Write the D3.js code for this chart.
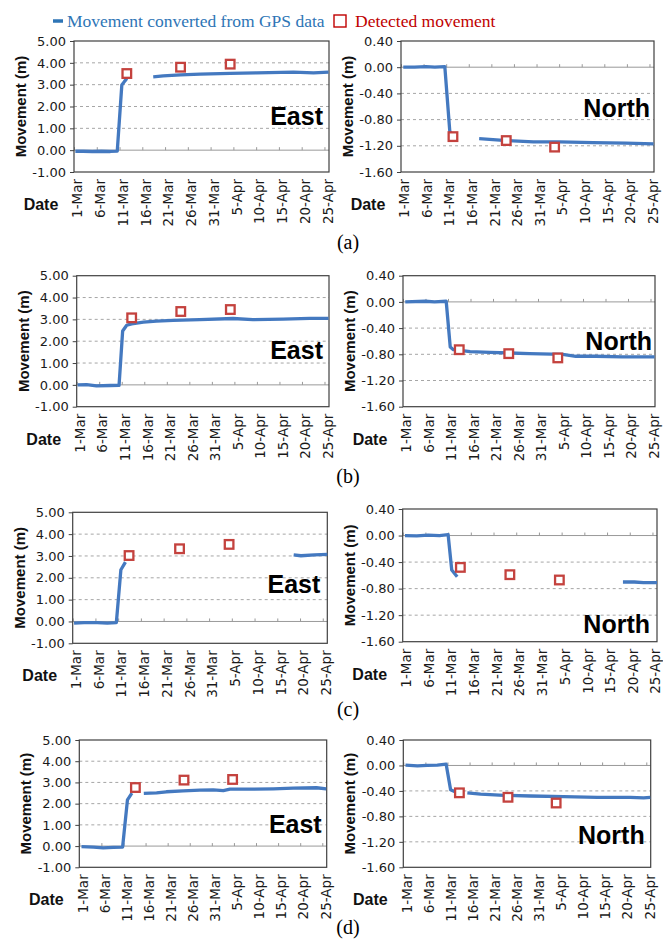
<!DOCTYPE html>
<html>
<head>
<meta charset="utf-8">
<script src="https://cdn.jsdelivr.net/npm/d3@7"></script>
<style>
  body { margin: 0; background: #fff; }
  svg { display: block; }
</style>
</head>
<body>
<div id="chart"></div>
<script>
// x values are days after 1-Mar (1-Mar = 0), y values are metres; null breaks the line
var dayTicks = [0, 5, 10, 15, 20, 25, 30, 35, 40, 45, 50, 55];
var dayLabels = ["1-Mar", "6-Mar", "11-Mar", "16-Mar", "21-Mar", "26-Mar", "31-Mar",
                 "5-Apr", "10-Apr", "15-Apr", "20-Apr", "25-Apr"];
var eastTicks = [-1, 0, 1, 2, 3, 4, 5];
var northTicks = [-1.6, -1.2, -0.8, -0.4, 0, 0.4];

var gpsEastA = [[0.3,-0.05],[2,-0.05],[4,-0.06],[6,-0.05],[8,-0.06],[9.5,-0.04],[10.5,2.98],[11.1,3.15],[11.6,3.28],
  [14,null],[17.4,3.36],[19.6,3.40],[23.4,3.45],[27.7,3.48],[34.3,3.52],[40.1,3.54],[48.2,3.57],[52.6,3.54],[55.9,3.57]];
var detEastA = [[11.6,3.51],[23.4,3.80],[34.3,3.94]];
var gpsNorthA = [[0.5,0.00],[3,0.00],[5.5,0.01],[7.5,0.00],[9.7,0.01],[10.8,-0.98],[11.9,-1.07],
  [14,null],[17.3,-1.09],[23.4,-1.12],[29.3,-1.14],[35.1,-1.14],[42.5,-1.15],[49.8,-1.16],[55.9,-1.17]];
var detNorthA = [[11.5,-1.06],[23.3,-1.12],[34.0,-1.22]];

var gpsEastB = [[0.2,0.00],[2.2,0.01],[4.4,-0.05],[7.4,-0.03],[9.4,-0.02],[10.2,2.47],[11.1,2.73],[12.2,2.79],[14.8,2.87],
  [17.7,2.92],[21.4,2.95],[27.3,2.99],[34.7,3.04],[39.1,2.99],[45.8,3.01],[51.7,3.05],[55.9,3.05]];
var detEastB = [[12.2,3.07],[23.1,3.36],[34.1,3.45]];
var gpsNorthB = [[0.5,0.00],[5,0.01],[7,0.00],[9.6,0.01],[10.5,-0.69],[11.2,-0.73],[12.7,-0.74],[14.9,-0.76],[19.3,-0.77],
  [23.7,-0.78],[28.1,-0.79],[35.5,-0.80],[38.4,-0.83],[42.9,-0.83],[48.7,-0.84],[55.9,-0.84]];
var detNorthB = [[12.5,-0.73],[23.5,-0.79],[34.4,-0.855]];

var gpsEastC = [[0.3,-0.08],[2.5,-0.05],[5.4,-0.05],[7.6,-0.08],[9.6,-0.05],[10.6,2.37],[11.6,2.72],
  [14,null],[48.6,3.05],[50.2,3.01],[53.2,3.05],[56,3.07]];
var detEastC = [[12.4,3.02],[23.5,3.33],[34.4,3.53]];
var gpsNorthC = [[0.5,0.00],[3.1,-0.005],[5.6,0.005],[8.1,0.00],[10.0,0.015],[10.8,-0.52],[12.0,-0.62],
  [14,null],[48.5,-0.70],[51,-0.70],[53,-0.71],[56,-0.71]];
var detNorthC = [[12.7,-0.48],[23.6,-0.59],[34.5,-0.67]];

var gpsEastD = [[0.5,-0.03],[3.2,-0.05],[5.4,-0.08],[7.7,-0.06],[9.8,-0.05],[10.9,2.18],[11.9,2.5],
  [13,null],[14.6,2.48],[17.5,2.51],[19.7,2.56],[23.5,2.60],[27.3,2.64],[30.3,2.65],[32.6,2.61],[34.1,2.68],
  [38.6,2.68],[43.9,2.70],[48.4,2.73],[53.7,2.75],[55.9,2.70]];
var detEastD = [[12.7,2.76],[23.7,3.11],[34.7,3.14]];
var gpsNorthD = [[0.5,0.005],[3.2,-0.005],[5.4,0.00],[7.7,0.005],[9.7,0.02],[10.7,-0.38],[11.6,-0.41],[12.4,-0.43],
  [13.5,null],[14.5,-0.43],[17.5,-0.45],[22.8,-0.47],[28.8,-0.48],[36.3,-0.49],[43.9,-0.50],[51.4,-0.50],[54.4,-0.51],[55.9,-0.50]];
var detNorthD = [[12.7,-0.43],[23.7,-0.50],[34.6,-0.59]];

var captions = ["(a)", "(b)", "(c)", "(d)"];

// frame of each plot, in pixels
var panels = [
  {name: "East",  gps: gpsEastA,  det: detEastA,  ticks: eastTicks,  left: 74,    right: 329,   top: 41,    bottom: 172,   labelY: 1.17,  labelDx: 6},
  {name: "North", gps: gpsNorthA, det: detNorthA, ticks: northTicks, left: 401,   right: 654,   top: 41,    bottom: 172,   labelY: -0.765, labelDx: 4},
  {name: "East",  gps: gpsEastB,  det: detEastB,  ticks: eastTicks,  left: 76.7,  right: 329,   top: 275.7, bottom: 406.7, labelY: 1.18,  labelDx: 6},
  {name: "North", gps: gpsNorthB, det: detNorthB, ticks: northTicks, left: 403,   right: 655,   top: 275.7, bottom: 406.7, labelY: -0.74, labelDx: 3},
  {name: "East",  gps: gpsEastC,  det: detEastC,  ticks: eastTicks,  left: 72.7,  right: 327.3, top: 512.3, bottom: 643.3, labelY: 1.31,  labelDx: 7},
  {name: "North", gps: gpsNorthC, det: detNorthC, ticks: northTicks, left: 402.7, right: 657,   top: 509,   bottom: 641.7, labelY: -1.47, labelDx: 7},
  {name: "East",  gps: gpsEastD,  det: detEastD,  ticks: eastTicks,  left: 79.3,  right: 326.7, top: 740,   bottom: 867.3, labelY: 0.63,  labelDx: 5},
  {name: "North", gps: gpsNorthD, det: detNorthD, ticks: northTicks, left: 403.3, right: 650.7, top: 740,   bottom: 867.3, labelY: -1.23, labelDx: 6}
];
var captionY = [249, 483, 716, 934];

var blue = "#4479c0", red = "#c4423e";

var svg = d3.select("#chart").append("svg")
    .attr("width", 663)
    .attr("height", 940);

// legend
var legend = svg.append("g");
legend.append("line")
    .attr("x1", 53).attr("x2", 63).attr("y1", 21).attr("y2", 21)
    .attr("stroke", "#2e75b6").attr("stroke-width", 3.5);
legend.append("text")
    .attr("x", 67).attr("y", 27)
    .style("font", "17.5px 'Liberation Serif', 'Times New Roman', serif")
    .attr("fill", "#2e75b6")
    .text("Movement converted from GPS data");
legend.append("rect")
    .attr("x", 334).attr("y", 15).attr("width", 12).attr("height", 12)
    .attr("fill", "none").attr("stroke", "#c00000").attr("stroke-width", 1.4);
legend.append("text")
    .attr("x", 355).attr("y", 27)
    .style("font", "17.5px 'Liberation Serif', 'Times New Roman', serif")
    .attr("fill", "#c00000")
    .text("Detected movement");

function drawPanel(p) {
    var x = d3.scaleLinear().domain([0, 56]).range([p.left, p.right]);
    var y = d3.scaleLinear().domain(d3.extent(p.ticks)).range([p.bottom, p.top]);
    var g = svg.append("g");
    var w = p.right - p.left;

    // dashed grid lines
    var gridVals = p.ticks.filter(function(t) { return t !== 0 && t !== p.ticks[0] && t !== p.ticks[p.ticks.length - 1]; });
    g.selectAll(".grid").data(gridVals).enter().append("line")
        .attr("x1", p.left).attr("x2", p.right)
        .attr("y1", function(d) { return y(d); }).attr("y2", function(d) { return y(d); })
        .attr("stroke", "#a6a6a6").attr("stroke-dasharray", "3,3");

    // zero line with small ticks
    var zero = g.append("g")
        .attr("transform", "translate(0," + y(0) + ")")
        .call(d3.axisTop(x).tickValues(dayTicks).tickSize(3).tickFormat(""));
    zero.select(".domain").attr("stroke", "#999").attr("d", "M" + p.left + ",0H" + p.right);
    zero.selectAll(".tick line").attr("stroke", "#999");

    // y axis
    var yAxis = g.append("g")
        .attr("transform", "translate(" + p.left + ",0)")
        .call(d3.axisLeft(y).tickValues(p.ticks).tickSize(4).tickPadding(4)
            .tickFormat(function(d) { return d.toFixed(2); }));
    yAxis.select(".domain").remove();
    yAxis.selectAll(".tick line").attr("stroke", "#404040");
    yAxis.selectAll("text")
        .style("font", "13px 'DejaVu Sans', Verdana, sans-serif")
        .attr("fill", "#1a1a1a");

    // x labels at the bottom (kept inside the page at the right edge)
    var xAxis = g.append("g")
        .attr("transform", "translate(0," + p.bottom + ")")
        .call(d3.axisBottom(x).tickValues(dayTicks).tickSize(0)
            .tickFormat(function(d, i) { return dayLabels[i]; }));
    xAxis.select(".domain").remove();
    xAxis.selectAll("text")
        .style("font", "13.5px 'DejaVu Sans', Verdana, sans-serif")
        .attr("fill", "#1a1a1a")
        .attr("text-anchor", "end")
        .attr("transform", function(d) { return "translate(" + Math.min(3, 655 - x(d)) + ",7) rotate(-90)"; })
        .attr("x", 0).attr("y", 0).attr("dy", "0.35em");

    // frame
    g.append("rect")
        .attr("x", p.left).attr("y", p.top).attr("width", w).attr("height", p.bottom - p.top)
        .attr("fill", "none").attr("stroke", "#404040").attr("stroke-width", 1.2);

    // GPS line
    var line = d3.line()
        .defined(function(d) { return d[1] !== null; })
        .x(function(d) { return x(d[0]); })
        .y(function(d) { return y(d[1]); });
    g.append("path")
        .datum(p.gps)
        .attr("d", line)
        .attr("fill", "none").attr("stroke", blue).attr("stroke-width", 3.3)
        .attr("stroke-linejoin", "round");

    // detected squares
    g.selectAll(".det").data(p.det).enter().append("rect")
        .attr("x", function(d) { return x(d[0]) - 4.3; })
        .attr("y", function(d) { return y(d[1]) - 4.3; })
        .attr("width", 8.6).attr("height", 8.6)
        .attr("fill", "#fff").attr("stroke", red).attr("stroke-width", 2.3);

    // axis titles
    g.append("text")
        .attr("transform", "translate(" + (p.left - 48) + "," + ((p.top + p.bottom) / 2) + ") rotate(-90)")
        .attr("text-anchor", "middle")
        .style("font", "bold 15px 'Liberation Sans', Arial, sans-serif")
        .attr("fill", "#111")
        .text("Movement (m)");
    g.append("text")
        .attr("x", p.left - 33).attr("y", p.bottom + 38)
        .attr("text-anchor", "middle")
        .style("font", "bold 16px 'Liberation Sans', Arial, sans-serif")
        .attr("fill", "#111")
        .text("Date");

    // component label
    g.append("text")
        .attr("x", p.right - p.labelDx).attr("y", y(p.labelY))
        .attr("text-anchor", "end")
        .style("font", "bold 25px 'Liberation Sans', Arial, sans-serif")
        .attr("fill", "#000")
        .text(p.name);
}

panels.forEach(drawPanel);

svg.selectAll(".cap").data(captions).enter().append("text")
    .attr("x", 348).attr("y", function(d, i) { return captionY[i]; })
    .attr("text-anchor", "middle")
    .style("font", "20px 'Liberation Serif', 'Times New Roman', serif")
    .attr("fill", "#000")
    .text(function(d) { return d; });
</script>
</body>
</html>
